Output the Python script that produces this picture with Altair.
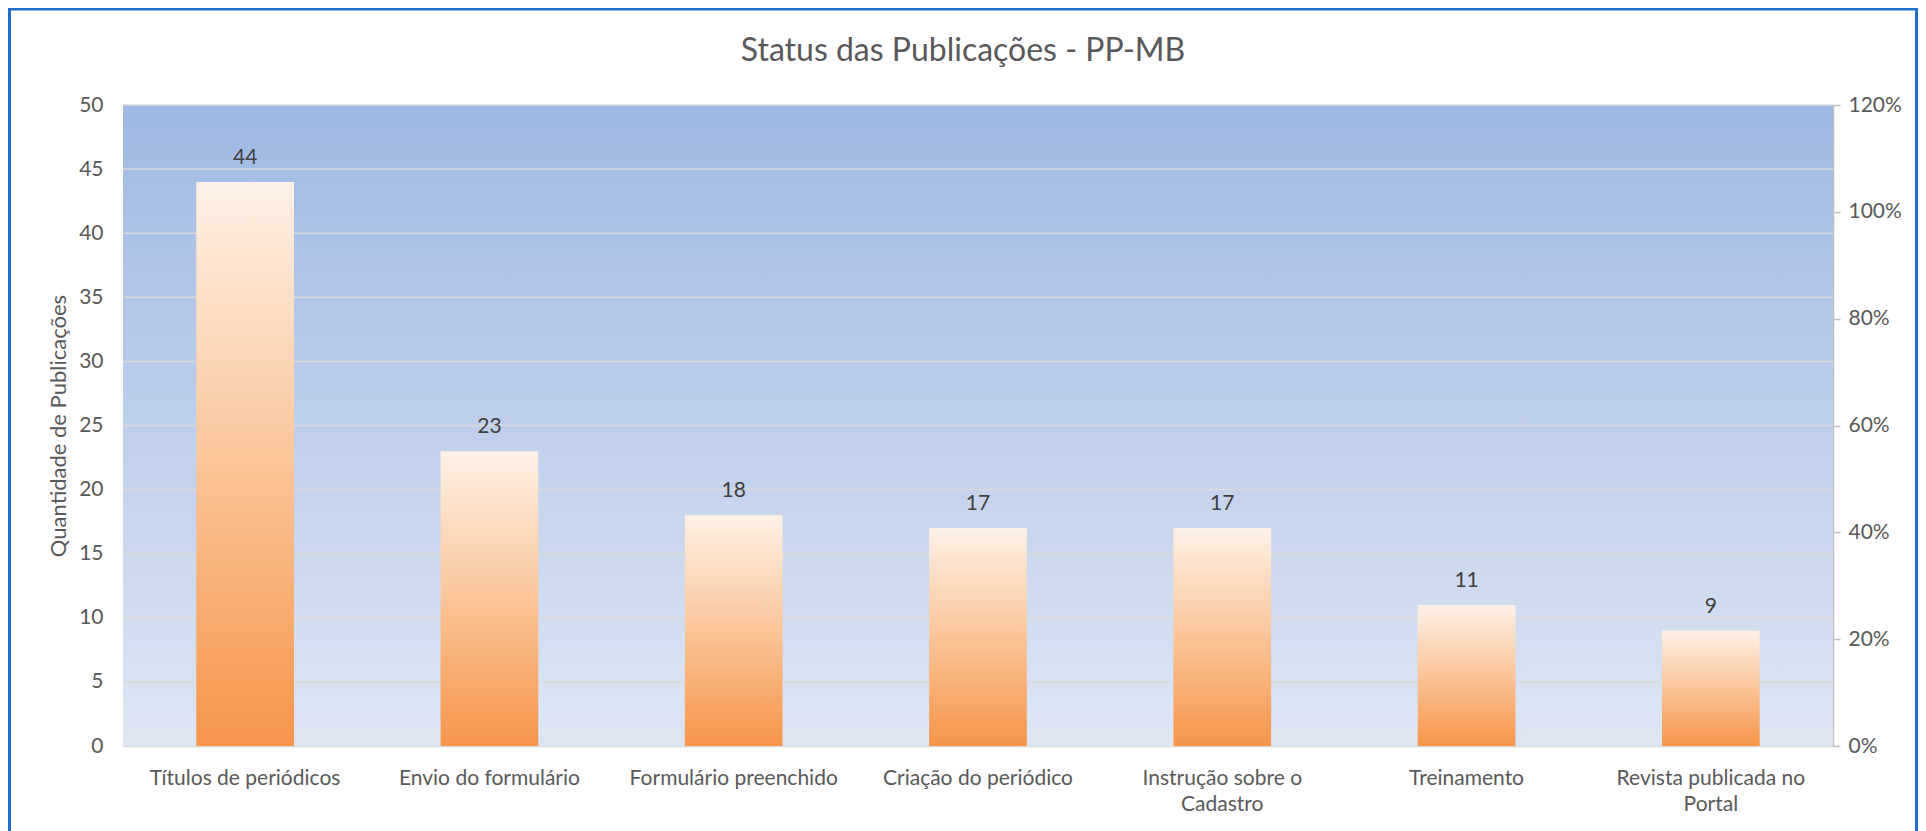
import altair as alt
import pandas as pd

categories = ["Títulos de periódicos", "Envio do formulário", "Formulário preenchido",
              "Criação do periódico", "Instrução sobre o|Cadastro", "Treinamento",
              "Revista publicada no|Portal"]
values = [44, 23, 18, 17, 17, 11, 9]
left_ticks = [0, 5, 10, 15, 20, 25, 30, 35, 40, 45, 50]
right_ticks = [0, 0.2, 0.4, 0.6, 0.8, 1.0, 1.2]

W, H = 1710, 641
PL, PT, PR, PB = 115, 97, 85, 85
FONT = "Lato"
TXT = "#595959"
FS = 21

df = pd.DataFrame({"cat": categories, "val": values})
base = alt.Chart(df)
yscale = alt.Scale(domain=[0, 50])

bg = alt.Chart(alt.Data(values=[{"a": 1}])).mark_rect(
    color=alt.Gradient(gradient="linear", x1=0, y1=0, x2=0, y2=1,
                       stops=[alt.GradientStop(offset=0, color="#9FB8E3"),
                              alt.GradientStop(offset=1, color="#DEE6F3")])
).encode(x=alt.value(0), x2=alt.value(W), y=alt.value(0), y2=alt.value(H))

grid = alt.Chart(pd.DataFrame({"t": left_ticks[1:]})).mark_rule(
    color="#D9D9D9", strokeWidth=1.5
).encode(x=alt.value(0), x2=alt.value(W),
         y=alt.Y("t:Q", scale=yscale, axis=None))

frame = alt.Chart(alt.Data(values=[{"a": 1}])).mark_rect(
    fill=None, filled=False, stroke="#1F6FC9", strokeWidth=3
).encode(x=alt.value(-PL + 1.5), x2=alt.value(W + PR - 1.5),
         y=alt.value(-PT + 1), y2=alt.value(H + PB + 20))

xenc = alt.X("cat:N", sort=categories, title=None,
             scale=alt.Scale(paddingInner=0.6, paddingOuter=0.3),
             axis=alt.Axis(labelAngle=0, labelFontSize=FS, labelColor=TXT, labelFont=FONT,
                           labelExpr="split(datum.label, '|')", labelLineHeight=26,
                           labelPadding=21, ticks=False, domainColor="#D9D9D9",
                           domainWidth=1.5, labelLimit=400))

bars = base.mark_bar(
    color=alt.Gradient(gradient="linear", x1=0, y1=0, x2=0, y2=1,
                       stops=[alt.GradientStop(offset=0, color="#FEF1E7"),
                              alt.GradientStop(offset=0.45, color="#FAC9A0"),
                              alt.GradientStop(offset=1, color="#F6954A")])
).encode(
    x=xenc,
    y=alt.Y("val:Q", scale=yscale,
            axis=alt.Axis(values=left_ticks, grid=False,
                          domain=False, ticks=False, labelFontSize=FS, labelColor=TXT,
                          labelFont=FONT, labelPadding=20,
                          title="Quantidade de Publicações", titleFontSize=22,
                          titleFont=FONT, titleColor=TXT, titleFontWeight="normal",
                          titlePadding=8))
)

labels = base.mark_text(fontSize=FS, color="#404040", font=FONT, baseline="alphabetic",
                        dy=-18).encode(
    x=alt.X("cat:N", sort=categories),
    y=alt.Y("val:Q", scale=yscale, axis=None),
    text="val:Q",
)

pct = base.mark_point(opacity=0).encode(
    y=alt.Y(datum=0, type="quantitative", scale=alt.Scale(domain=[0, 1.2]),
            axis=alt.Axis(orient="right", values=right_ticks, format=".0%", grid=False,
                          domain=True, domainColor="#BFBFBF", domainWidth=1.5,
                          ticks=True, tickColor="#BFBFBF", tickSize=7, tickWidth=1.5,
                          labelFontSize=FS, labelColor=TXT, labelFont=FONT,
                          labelPadding=8, title=None))
)

chart = alt.layer(bg, grid, bars, labels, pct, frame).resolve_scale(y="independent").properties(
    width=W, height=H,
    padding={"left": PL, "top": PT, "right": PR, "bottom": PB},
    autosize=alt.AutoSizeParams(type="none"),
    title=alt.TitleParams("Status das Publicações - PP-MB", fontSize=32, color=TXT,
                          font=FONT, fontWeight="normal", anchor="middle", frame="group",
                          baseline="bottom", dx=-15, offset=-92),
    background="white",
).configure_view(stroke=None)

chart.save("out.html", embed_options={"renderer": "svg", "actions": False})
